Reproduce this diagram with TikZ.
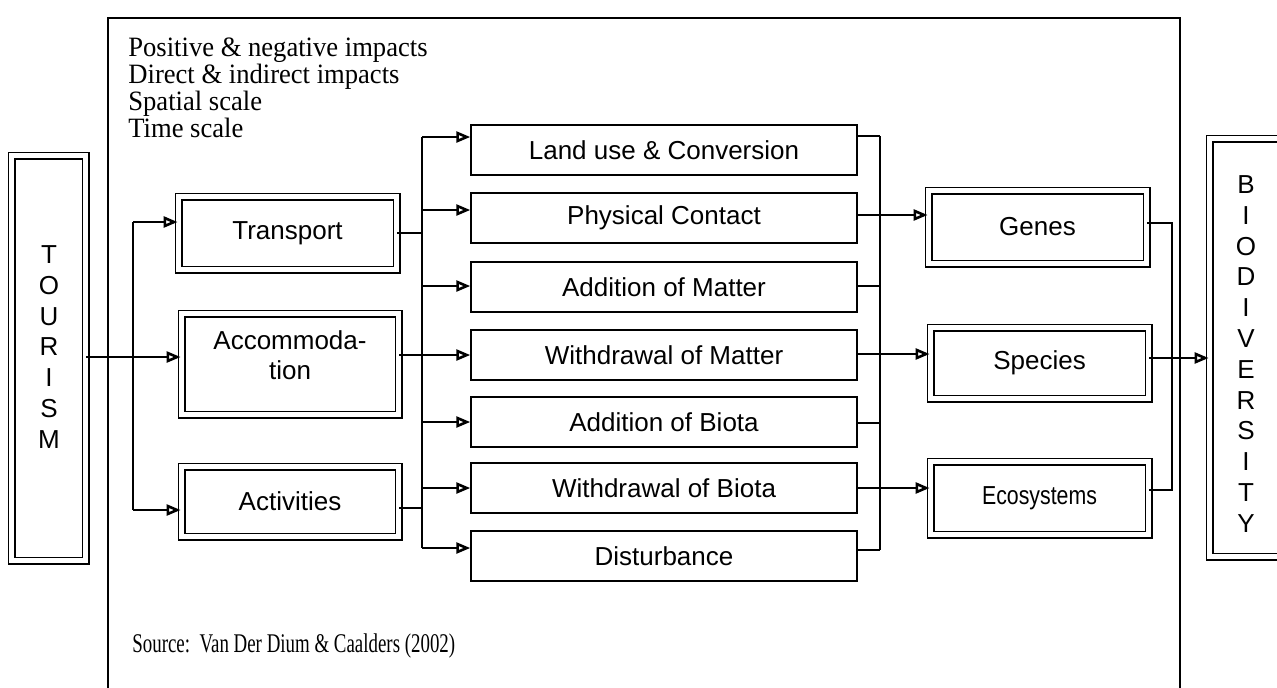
\documentclass[tikz,border=0pt]{standalone}
\usepackage{fontspec}
\setmainfont{Liberation Serif}
\setsansfont{Liberation Sans}
\usetikzlibrary{arrows.meta}

\begin{document}
\begin{tikzpicture}[x=0.5pt, y=-0.5pt,
  dbl/.style={draw, line width=0.9pt, double, double distance=2.2pt, inner sep=0pt,
    align=center, font=\sffamily\fontsize{13}{15}\selectfont},
  sbox/.style={draw, line width=0.75pt, minimum width=193pt, minimum height=25pt,
    inner sep=0pt, font=\sffamily\fontsize{13}{15}\selectfont},
  conn/.style={line width=0.85pt},
  arr/.style={conn, -{Triangle[open, length=7pt, width=5.5pt, line width=1.3pt]}},
  serif/.style={font=\rmfamily\fontsize{14}{16}\selectfont, inner sep=0pt, anchor=base west},
  letters/.style={font=\sffamily\fontsize{13}{15.4}\selectfont, align=center, inner sep=0pt},
  boxtext/.style={font=\sffamily\fontsize{13}{15}\selectfont, align=center, inner sep=0pt},
]
\useasboundingbox (0,0) rectangle (1277,687);
\clip (0,0) rectangle (1277,687);

% enclosing frame (open at the bottom edge of the page)
\draw[conn] (108,700) -- (108,18) -- (1180,18) -- (1180,700);

% notes in the top-left corner
\node[serif] (h1) at (128,56)  {\scalebox{0.95}[1]{Positive \& negative impacts}};
\node[serif] (h2) at (128,83)  {\scalebox{0.95}[1]{Direct \& indirect impacts}};
\node[serif] (h3) at (128,110) {\scalebox{0.95}[1]{Spatial scale}};
\node[serif] (h4) at (128,137) {\scalebox{0.95}[1]{Time scale}};

% source line
\node[serif, font=\rmfamily\fontsize{13.5}{16}\selectfont] (src) at (132,652)
  {\scalebox{0.7}[1]{Source:\ \ Van Der Dium \& Caalders (2002)}};

% outer boxes
\node[dbl, minimum width=37pt, minimum height=202.5pt] (tourism) at (48.5,358) {};
\node[letters] (tourtxt) at (49,347) {T\\O\\U\\R\\I\\S\\M};
\node[dbl, minimum width=50.25pt, minimum height=209pt] (bio) at (1259.75,347.5) {};
\node[letters] (biotxt) at (1246,354) {B\\I\\O\\D\\I\\V\\E\\R\\S\\I\\T\\Y};

% sources of impact
\node[dbl, minimum width=109pt, minimum height=36.5pt] (transport) at (287.5,233) {Transport};
\node[dbl, minimum width=108.5pt, minimum height=50.5pt] (accom) at (290,364) {};
\node[boxtext] (accomtxt) at (290,355) {Accommoda-\\tion};
\node[dbl, minimum width=108.5pt, minimum height=35pt] (activ) at (290,501.5) {Activities};

% impact mechanisms
\node[sbox] (m1) at (664,150) {Land use \& Conversion};
\node[sbox] (m2) at (664,218) {Physical Contact};
\node[sbox] (m3) at (664,287) {Addition of Matter};
\node[sbox] (m4) at (664,355) {Withdrawal of Matter};
\node[sbox] (m5) at (664,422) {Addition of Biota};
\node[sbox] (m6) at (664,488) {Withdrawal of Biota};
\node[sbox] (m7) at (664,556) {Disturbance};

% biodiversity levels
\node[dbl, minimum width=109pt, minimum height=36.5pt] (genes) at (1037.5,227) {Genes};
\node[dbl, minimum width=109pt, minimum height=35.5pt] (species) at (1039.5,363) {Species};
\node[dbl, minimum width=109pt, minimum height=36.5pt] (eco) at (1039.5,498)
  {\scalebox{0.82}[1]{Ecosystems}};

% tourism to its components
\coordinate (lb1) at (133,222);
\coordinate (lb2) at (133,510);
\draw[arr] (tourism.east |- 0,357) -- (accom.west |- 0,357);
\draw[conn] (lb1) -- (lb2);
\draw[arr] (lb1) -- (transport.west |- lb1);
\draw[arr] (lb2) -- (activ.west |- lb2);

% components to mechanisms
\coordinate (ml1) at (422,137);
\coordinate (ml2) at (422,548);
\draw[conn] (ml1) -- (ml2);
\draw[conn] (transport.east) -- (transport.east -| ml1);
\draw[conn] (accom.east |- 0,355) -- (ml1 |- 0,355);
\draw[conn] (activ.east |- 0,508) -- (ml1 |- 0,508);
\draw[arr] (ml1) -- (m1.west |- ml1);
\draw[arr] (ml1 |- 0,210) -- (m2.west |- 0,210);
\draw[arr] (ml1 |- 0,286) -- (m3.west |- 0,286);
\draw[arr] (ml1 |- 0,355) -- (m4.west |- 0,355);
\draw[arr] (ml1 |- 0,422) -- (m5.west |- 0,422);
\draw[arr] (ml1 |- 0,488) -- (m6.west |- 0,488);
\draw[arr] (ml1 |- 0,548) -- (m7.west |- 0,548);

% mechanisms to biodiversity levels
\coordinate (mr1) at (880,136);
\coordinate (mr2) at (880,550);
\draw[conn] (mr1) -- (mr2);
\draw[conn] (m1.east |- mr1) -- (mr1);
\draw[arr] (m2.east |- 0,215) -- (genes.west |- 0,215);
\draw[conn] (m3.east |- 0,286) -- (mr1 |- 0,286);
\draw[arr] (m4.east |- 0,354) -- (species.west |- 0,354);
\draw[conn] (m5.east |- 0,423) -- (mr1 |- 0,423);
\draw[arr] (m6.east |- 0,488) -- (eco.west |- 0,488);
\draw[conn] (m7.east |- mr2) -- (mr2);

% levels to biodiversity
\coordinate (gx1) at (1172,223);
\coordinate (gx2) at (1172,490);
\draw[conn] (genes.east |- gx1) -- (gx1) -- (gx2) -- (eco.east |- gx2);
\draw[arr] (species.east |- 0,358) -- (bio.west |- 0,358);
\end{tikzpicture}
\end{document}
